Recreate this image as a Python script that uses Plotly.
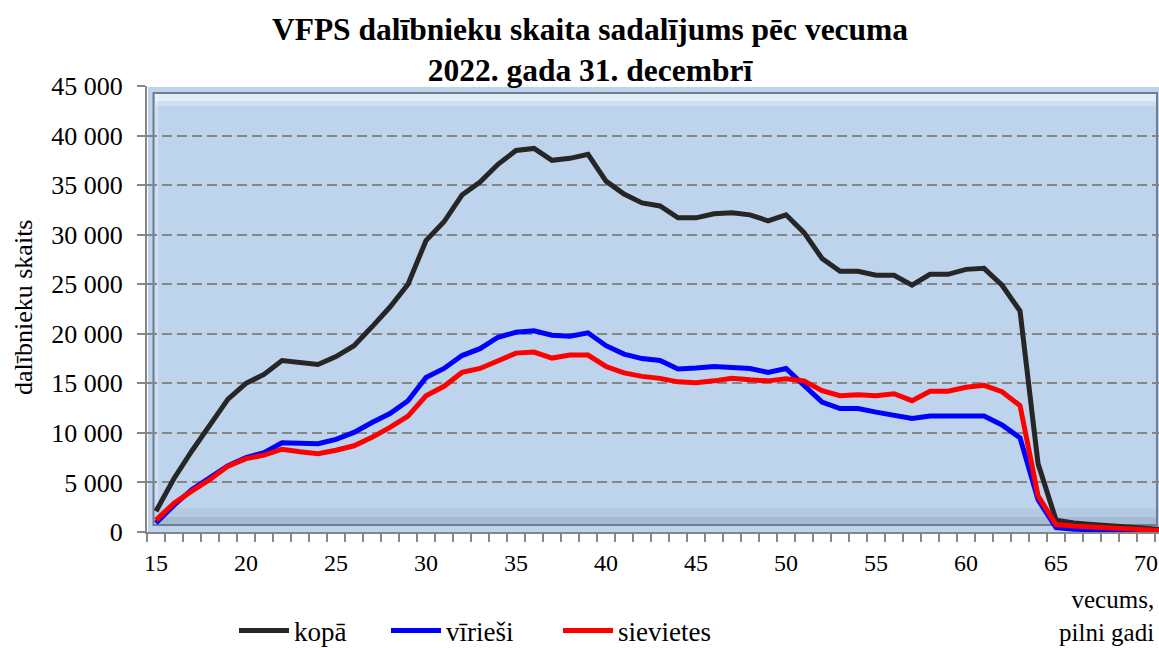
import plotly.graph_objects as go

ages = list(range(15, 72))

kopa = [2100, 5400, 8200, 10700, 13400, 15000, 15900, 17300, 17100, 16900,
        17700, 18800, 20700, 22700, 25000, 29400, 31300, 34000, 35300, 37100,
        38500, 38700, 37500, 37700, 38100, 35400, 34100, 33200, 32900, 31700,
        31700, 32100, 32200, 32000, 31400, 32000, 30200, 27600, 26300, 26300,
        25900, 25900, 24900, 26000, 26000, 26500, 26600, 24900, 22300, 6900,
        1200, 900, 750, 650, 450, 350, 250]

virlesi = [900, 2700, 4300, 5500, 6700, 7500, 8000, 9000, 8900, 8900,
           9350, 10050, 11050, 11950, 13250, 15600, 16500, 17800, 18500, 19650,
           20150, 20300, 19850, 19750, 20100, 18800, 17950, 17500, 17300, 16450,
           16550, 16700, 16600, 16500, 16100, 16500, 14800, 13100, 12450, 12450,
           12100, 11800, 11450, 11700, 11700, 11700, 11700, 10800, 9500, 3250,
           450, 280, 200, 170, 110, 80, 60]

sievietes = [1200, 2900, 4150, 5300, 6650, 7400, 7750, 8350, 8100, 7900,
             8250, 8700, 9550, 10550, 11700, 13750, 14700, 16100, 16500, 17300,
             18050, 18150, 17550, 17850, 17850, 16700, 16050, 15700, 15500, 15150,
             15050, 15250, 15500, 15350, 15250, 15450, 15250, 14250, 13750, 13850,
             13750, 13950, 13250, 14200, 14200, 14600, 14800, 14150, 12750, 3650,
             750, 600, 500, 450, 250, 170, 130]

x_tick_vals = [15, 20, 25, 30, 35, 40, 45, 50, 55, 60, 65, 70]
y_tick_vals = [0, 5000, 10000, 15000, 20000, 25000, 30000, 35000, 40000, 45000]
y_tick_text = ["0", "5 000", "10 000", "15 000", "20 000", "25 000",
               "30 000", "35 000", "40 000", "45 000"]

title_text = "<b>VFPS dalībnieku skaita sadalījums pēc vecuma<br>2022. gada 31. decembrī</b>"
y_title = "dalībnieku skaits"
x_title = "vecums,<br>pilni gadi"

FONT = "'Liberation Serif', 'Times New Roman', serif"
W, H = 1159, 648
L, R, T, B = 147, 0, 86, 116
PW, PH = W - L - R, H - T - B


def px_x(p):
    return (p - L) / PW


def px_y(p):
    return (H - B - p) / PH


fig = go.Figure()
fig.add_trace(go.Scatter(x=ages, y=kopa, name="kopā", mode="lines",
                         line=dict(color="#262626", width=5), legend="legend"))
fig.add_trace(go.Scatter(x=ages, y=virlesi, name="vīrieši", mode="lines",
                         line=dict(color="#0000FF", width=5), legend="legend2"))
fig.add_trace(go.Scatter(x=ages, y=sievietes, name="sievietes", mode="lines",
                         line=dict(color="#FF0000", width=5), legend="legend3"))

shapes = []
# plot area fill
shapes.append(dict(type="rect", xref="paper", yref="paper", x0=px_x(148), x1=1.0,
                   y0=0, y1=px_y(87), fillcolor="#BED4EC", line=dict(width=0), layer="below"))
# top highlight bands
shapes.append(dict(type="rect", xref="paper", yref="paper", x0=px_x(155), x1=px_x(1156),
                   y0=px_y(101), y1=px_y(94), fillcolor="rgba(255,255,255,0.6)",
                   line=dict(width=0), layer="below"))
shapes.append(dict(type="rect", xref="paper", yref="paper", x0=px_x(155), x1=px_x(1156),
                   y0=px_y(106), y1=px_y(101), fillcolor="rgba(255,255,255,0.25)",
                   line=dict(width=0), layer="below"))
# left highlight
shapes.append(dict(type="rect", xref="paper", yref="paper", x0=px_x(155), x1=px_x(158),
                   y0=px_y(524), y1=px_y(94), fillcolor="rgba(255,255,255,0.3)",
                   line=dict(width=0), layer="below"))
# bottom shading
shapes.append(dict(type="rect", xref="paper", yref="paper", x0=px_x(155), x1=px_x(1156),
                   y0=px_y(517), y1=px_y(508), fillcolor="rgba(110,130,155,0.12)",
                   line=dict(width=0), layer="below"))
shapes.append(dict(type="rect", xref="paper", yref="paper", x0=px_x(155), x1=px_x(1156),
                   y0=px_y(524), y1=px_y(517), fillcolor="rgba(95,112,135,0.25)",
                   line=dict(width=0), layer="below"))
# inner bevel border
shapes.append(dict(type="rect", xref="paper", yref="paper", x0=px_x(153.5), x1=px_x(1157),
                   y0=px_y(525), y1=px_y(93), fillcolor="rgba(0,0,0,0)",
                   line=dict(width=2, color="#6F7D8E"), layer="below"))

leg_common = dict(xanchor="left", yanchor="middle", orientation="h",
                  font=dict(family=FONT, size=27, color="black"),
                  bgcolor="rgba(0,0,0,0)", itemwidth=50)

fig.update_layout(
    width=W, height=H,
    margin=dict(l=L, r=R, t=T, b=B, autoexpand=False),
    paper_bgcolor="white",
    plot_bgcolor="white",
    font=dict(family=FONT, color="black", size=24),
    title=dict(text=title_text, x=590 / W, xref="container", xanchor="center",
               y=1 - 40 / H, yref="container", yanchor="middle",
               font=dict(family=FONT, size=31.5, color="black")),
    xaxis=dict(range=[14.5, 70.72], tickmode="array", tickvals=x_tick_vals,
               ticks="", showgrid=False, zeroline=False,
               showline=True, linecolor="#868686", linewidth=2,
               tickfont=dict(family=FONT, size=24), ticklabelstandoff=8,
               ticklabeloverflow="allow",
               minor=dict(tickmode="linear", tick0=14.5, dtick=1, ticks="outside",
                          ticklen=8, tickwidth=1.5, tickcolor="#868686", showgrid=False)),
    yaxis=dict(range=[0, 45000], tickmode="array", tickvals=y_tick_vals, ticktext=y_tick_text,
               ticks="outside", ticklen=8, tickwidth=2, tickcolor="#868686",
               showline=True, linecolor="#868686", linewidth=2, zeroline=False,
               showgrid=True, gridcolor="#868686", gridwidth=2, griddash="10px,5px",
               tickfont=dict(family=FONT, size=26), ticklabelstandoff=9),
    shapes=shapes,
    showlegend=True,
    legend=dict(x=px_x(234), y=px_y(631), **leg_common),
    legend2=dict(x=px_x(386), y=px_y(631), **leg_common),
    legend3=dict(x=px_x(558), y=px_y(631), **leg_common),
    annotations=[
        dict(text=y_title, xref="paper", yref="paper", x=px_x(23), y=px_y(308),
             textangle=-90, showarrow=False, xanchor="center", yanchor="middle",
             font=dict(family=FONT, size=26)),
        dict(text=x_title, xref="paper", yref="paper", x=px_x(1156), y=px_y(616),
             showarrow=False, xanchor="right", yanchor="middle", align="right",
             font=dict(family=FONT, size=25)),
    ],
)

fig.write_html(
    "out.html",
    config={"displayModeBar": False},
    post_script="document.body.style.margin='0';document.body.style.overflow='hidden';",
)
